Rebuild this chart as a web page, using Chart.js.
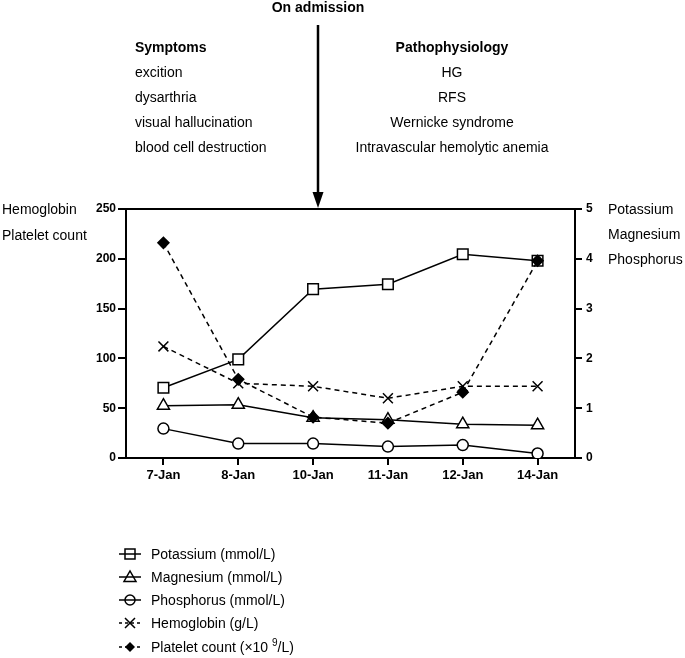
<!DOCTYPE html>
<html>
<head>
<meta charset="utf-8">
<script src="https://cdn.jsdelivr.net/npm/chart.js@4/dist/chart.umd.min.js"></script>
<style>
  html, body { margin: 0; padding: 0; background: #fff; }
  #wrap { position: relative; width: 685px; height: 658px; overflow: hidden; font-family: "Liberation Sans", Arial, sans-serif; color: #000; }
  #c { position: absolute; left: 0; top: 0; }
  .t { position: absolute; white-space: nowrap; font-size: 14px; line-height: 16px; }
  .b { font-weight: bold; }
  svg.ov { position: absolute; left: 0; top: 0; pointer-events: none; }
  sup { font-size: 10px; vertical-align: 6px; line-height: 0; }
</style>
</head>
<body>
<div id="wrap">
  <canvas id="c" width="685" height="658"></canvas>
  <svg class="ov" width="685" height="658" id="ov"></svg>
</div>
<script>
// ---- data ----
const categories = ['7-Jan', '8-Jan', '10-Jan', '11-Jan', '12-Jan', '14-Jan'];
const potassium  = [1.41, 1.98, 3.39, 3.49, 4.09, 3.96];
const magnesium  = [1.05, 1.07, 0.81, 0.77, 0.68, 0.66];
const phosphorus = [0.59, 0.29, 0.29, 0.23, 0.26, 0.09];
const hemoglobin = [112, 75, 72, 60, 72, 72];
const platelet   = [216, 79, 41, 35, 66, 198];
const leftTicks  = [0, 50, 100, 150, 200, 250];
const rightTicks = [0, 1, 2, 3, 4, 5];
const seriesNames = ['Potassium (mmol/L)', 'Magnesium (mmol/L)', 'Phosphorus (mmol/L)', 'Hemoglobin (g/L)', 'Platelet count (×10 <sup>9</sup>/L)'];
const symptoms = ['excition', 'dysarthria', 'visual hallucination', 'blood cell destruction'];
const pathophysiology = ['HG', 'RFS', 'Wernicke syndrome', 'Intravascular hemolytic anemia'];

const FONT = '"Liberation Sans", Arial, sans-serif';
const wrap = document.getElementById('wrap');

function addText(html, x, baseline, align, bold, size) {
  const d = document.createElement('div');
  d.className = 't' + (bold ? ' b' : '');
  if (size) d.style.fontSize = size + 'px';
  d.innerHTML = html;
  d.style.top = (baseline - 12.85) + 'px';
  if (align === 'center') { d.style.left = x + 'px'; d.style.transform = 'translateX(-50%)'; }
  else d.style.left = x + 'px';
  wrap.appendChild(d);
}

// annotations
addText('On admission', 318, 12, 'center', true);
addText('Symptoms', 135, 52, 'left', true);
symptoms.forEach((s, i) => addText(s, 135, 77 + 25 * i, 'left', false));
addText('Pathophysiology', 452, 52, 'center', true);
pathophysiology.forEach((s, i) => addText(s, 452, 77 + 25 * i, 'center', false));
addText('Hemoglobin', 2, 214, 'left', false);
addText('Platelet count', 2, 240, 'left', false);
addText('Potassium', 608, 214, 'left', false);
addText('Magnesium', 608, 239, 'left', false);
addText('Phosphorus', 608, 264, 'left', false);

// legend labels
const legendBase = [559, 582, 605, 628, 652];
seriesNames.forEach((s, i) => addText(s, 151, legendBase[i], 'left', false));

// overlay svg: arrow + legend icons
const ov = document.getElementById('ov');
let svg = '';
svg += '<line x1="318" y1="25" x2="318" y2="195" stroke="#000" stroke-width="2.5"/>';
svg += '<polygon points="312.5,192 323.5,192 318,208" fill="#000"/>';
const icons = ['sq', 'tri', 'circ', 'x', 'dia'];
icons.forEach((k, i) => {
  const cy = legendBase[i] - 5, cx = 130;
  const dash = (k === 'x' || k === 'dia') ? ' stroke-dasharray="3,3"' : '';
  svg += `<line x1="119" y1="${cy}" x2="141" y2="${cy}" stroke="#000" stroke-width="1.5"${dash}/>`;
  if (k === 'sq') svg += `<rect x="${cx-5}" y="${cy-5}" width="10" height="10" fill="none" stroke="#000" stroke-width="1.5"/>`;
  if (k === 'tri') svg += `<polygon points="${cx-6},${cy+4.5} ${cx+6},${cy+4.5} ${cx},${cy-6}" fill="none" stroke="#000" stroke-width="1.5"/>`;
  if (k === 'circ') svg += `<circle cx="${cx}" cy="${cy}" r="5" fill="none" stroke="#000" stroke-width="1.5"/>`;
  if (k === 'x') svg += `<path d="M${cx-5},${cy-5}L${cx+5},${cy+5}M${cx+5},${cy-5}L${cx-5},${cy+5}" stroke="#000" stroke-width="1.5"/>`;
  if (k === 'dia') svg += `<polygon points="${cx},${cy-5} ${cx+5},${cy} ${cx},${cy+5} ${cx-5},${cy}" fill="#000"/>`;
});
ov.innerHTML = svg;

// ---- chart ----
const topBorder = {
  id: 'topBorder',
  afterDraw(chart) {
    const { ctx, chartArea: a } = chart;
    ctx.save();
    ctx.strokeStyle = '#000';
    ctx.lineWidth = 2;
    ctx.beginPath();
    ctx.moveTo(a.left - 1, a.top);
    ctx.lineTo(a.right + 1, a.top);
    ctx.stroke();
    ctx.restore();
  }
};

function ds(label, data, axis, style, radius, dashed, filled, order) {
  return {
    label, data, yAxisID: axis,
    borderColor: '#000', borderWidth: 1.5, borderDash: dashed ? [5, 4] : [],
    pointStyle: style, pointRadius: radius, pointHoverRadius: radius,
    pointBackgroundColor: filled ? '#000' : '#fff', pointBorderColor: '#000', pointBorderWidth: 1.5,
    tension: 0, fill: false, order
  };
}

const tickFont = { family: FONT, weight: 'bold', size: 12 };

new Chart(document.getElementById('c'), {
  type: 'line',
  data: {
    labels: categories,
    datasets: [
      ds('Potassium (mmol/L)', potassium, 'y1', 'rect', 7.5, false, false, 2),
      ds('Magnesium (mmol/L)', magnesium, 'y1', 'triangle', 7, false, false, 3),
      ds('Phosphorus (mmol/L)', phosphorus, 'y1', 'circle', 5.5, false, false, 4),
      ds('Hemoglobin (g/L)', hemoglobin, 'y', 'crossRot', 7, true, false, 1),
      ds('Platelet count (×10⁹/L)', platelet, 'y', 'rectRot', 5.5, true, true, 0)
    ]
  },
  options: {
    responsive: false,
    animation: false,
    events: [],
    layout: { padding: { top: 209, bottom: 160, left: 0, right: 50 } },
    plugins: { legend: { display: false }, tooltip: { enabled: false }, title: { display: false } },
    scales: {
      x: {
        type: 'category', offset: true,
        grid: { display: true, drawOnChartArea: false, drawTicks: true, tickLength: 7, color: '#000', lineWidth: 2 },
        border: { display: true, color: '#000', width: 2 },
        ticks: { font: { family: FONT, weight: 'bold', size: 13 }, color: '#000', padding: 3, maxRotation: 0, autoSkip: false },
        afterFit: s => { s.height = 40; }
      },
      y: {
        position: 'left', min: 0, max: 250,
        afterBuildTicks: s => { s.ticks = leftTicks.map(v => ({ value: v })); },
        grid: { display: true, drawOnChartArea: false, drawTicks: true, tickLength: 8, color: '#000', lineWidth: 2 },
        border: { display: true, color: '#000', width: 2 },
        ticks: { font: tickFont, color: '#000', padding: 2 },
        afterFit: s => { s.width = 126; }
      },
      y1: {
        position: 'right', min: 0, max: 5,
        afterBuildTicks: s => { s.ticks = rightTicks.map(v => ({ value: v })); },
        grid: { display: true, drawOnChartArea: false, drawTicks: true, tickLength: 7, color: '#000', lineWidth: 2 },
        border: { display: true, color: '#000', width: 2 },
        ticks: { font: tickFont, color: '#000', padding: 4 },
        afterFit: s => { s.width = 60; }
      }
    }
  },
  plugins: [topBorder]
});
</script>
</body>
</html>
